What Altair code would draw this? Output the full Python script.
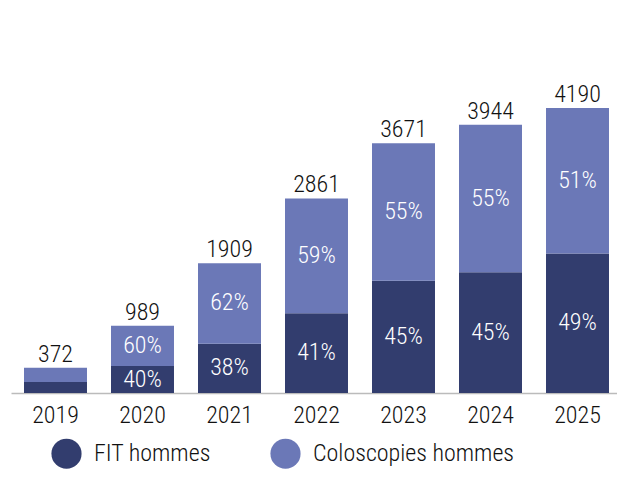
import altair as alt
import pandas as pd

years = ["2019", "2020", "2021", "2022", "2023", "2024", "2025"]
totals = [372, 989, 1909, 2861, 3671, 3944, 4190]
fit_pct = [43, 40, 38, 41, 45, 45, 49]
colo_pct = [57, 60, 62, 59, 55, 55, 51]
show_pct = [False, True, True, True, True, True, True]
series = ["FIT hommes", "Coloscopies hommes"]
colors = ["#323d6e", "#6b78b7"]

FONT = "Roboto Condensed, Roboto, sans-serif"
FS = 24
FW = 300

rows = []
for y, t, fp, cp, s in zip(years, totals, fit_pct, colo_pct, show_pct):
    fv = t * fp / 100.0
    cv = t * cp / 100.0
    rows.append({"year": y, "series": series[0], "ord": 0, "value": fv,
                 "lo": 0, "hi": fv, "label": f"{fp}%" if s else "", "total": t})
    rows.append({"year": y, "series": series[1], "ord": 1, "value": cv,
                 "lo": fv, "hi": fv + cv, "label": f"{cp}%" if s else "", "total": t})
df = pd.DataFrame(rows)
df["mid"] = (df["lo"] + df["hi"]) / 2
tot = pd.DataFrame({"year": years, "total": totals})

x = alt.X("year:N", title=None, sort=years,
          scale=alt.Scale(paddingInner=0.276, paddingOuter=0.1207, align=0.619, round=False),
          axis=alt.Axis(labelAngle=0, labelFontSize=FS, labelFont=FONT, labelFontWeight=FW,
                        labelColor="#111", ticks=False, domainColor="#bbbbbb",
                        domainWidth=1.5, labelPadding=10))
yscale = alt.Scale(domain=[0, 4500])

bars = alt.Chart(df).mark_bar().encode(
    x=x,
    y=alt.Y("lo:Q", scale=yscale, axis=None, title=None),
    y2="hi:Q",
    color=alt.Color("series:N", scale=alt.Scale(domain=series, range=colors),
                    legend=alt.Legend(title=None, orient="none", direction="horizontal",
                                      legendX=40, legendY=351, symbolType="circle",
                                      symbolSize=908, symbolStrokeWidth=0,
                                      labelFontSize=FS, labelFont=FONT, labelFontWeight=FW,
                                      labelColor="#111", labelOffset=12, columnPadding=59,
                                      labelLimit=0, symbolOpacity=1)),
)

pct = alt.Chart(df).mark_text(color="white", fontSize=FS, font=FONT, fontWeight=FW,
                              baseline="middle").encode(
    x=alt.X("year:N", sort=years),
    y=alt.Y("mid:Q", scale=yscale),
    text="label:N",
)

tl = alt.Chart(tot).mark_text(color="#111", fontSize=FS, font=FONT, fontWeight=FW,
                              baseline="alphabetic", dy=-6).encode(
    x=alt.X("year:N", sort=years),
    y=alt.Y("total:Q", scale=yscale),
    text="total:Q",
)

chart = (bars + pct + tl).properties(
    width=606, height=306,
    autosize=alt.AutoSizeParams(type="none"),
    padding={"left": 3, "top": 79, "right": 0, "bottom": 77},
).configure_view(stroke=None)

chart.save("out.html", embed_options={"renderer": "svg", "actions": False})
